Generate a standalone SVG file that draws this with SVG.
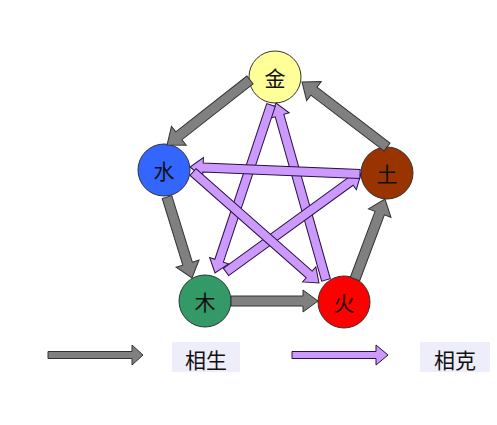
<svg xmlns="http://www.w3.org/2000/svg" width="497" height="425" viewBox="0 0 497 425">
<style>
.node{stroke:#333;stroke-width:1}
.lbl{font-family:"Noto Sans CJK SC","Noto Sans CJK JP",sans-serif;font-size:21px;fill:#111;text-anchor:middle;dominant-baseline:central}
.g{fill:#808080;stroke:#333;stroke-width:1;stroke-linejoin:miter}
.p{fill:#cc99ff;stroke:#2a1040;stroke-width:1;stroke-linejoin:miter}
.box{fill:#eeeefa}
</style>
<rect width="497" height="425" fill="#fff"/>
<g id="jin"><circle class="node" cx="275" cy="77" r="26" fill="#ffff99"/><text class="lbl" x="275" y="77">金</text></g>
<g id="shui"><circle class="node" cx="164" cy="170" r="26" fill="#3366ff"/><text class="lbl" x="164" y="170">水</text></g>
<g id="tu"><circle class="node" cx="387" cy="173" r="26" fill="#993300"/><text class="lbl" x="387" y="173">土</text></g>
<g id="mu"><circle class="node" cx="205" cy="301" r="26" fill="#339966"/><text class="lbl" x="205" y="301">木</text></g>
<g id="huo"><circle class="node" cx="344" cy="302" r="26" fill="#ff0000"/><text class="lbl" x="344" y="302">火</text></g>
<g id="connectors">
<polygon class="p" transform="translate(326,280) rotate(-105.77)" points="0,-4.5 170.9,-4.5 170.9,-10 183.9,0 170.9,10 170.9,4.5 0,4.5"/>
<polygon class="p" transform="translate(271,105) rotate(108.43)" points="0,-4.5 164.1,-4.5 164.1,-10 177.1,0 164.1,10 164.1,4.5 0,4.5"/>
<polygon class="p" transform="translate(226,272) rotate(-35.98)" points="0,-4.5 153.8,-4.5 153.8,-10 166.8,0 153.8,10 153.8,4.5 0,4.5"/>
<polygon class="p" transform="translate(360,174) rotate(-177.64)" points="0,-4.5 157.1,-4.5 157.1,-10 170.1,0 157.1,10 157.1,4.5 0,4.5"/>
<polygon class="p" transform="translate(193,172) rotate(41.38)" points="0,-4.5 154.9,-4.5 154.9,-10 167.9,0 154.9,10 154.9,4.5 0,4.5"/>
<polygon class="g" transform="translate(250,80) rotate(141.9)" points="0,-5 90.4,-5 90.4,-12 105.4,0 90.4,12 90.4,5 0,5"/>
<polygon class="g" transform="translate(167,197) rotate(72.85)" points="0,-5 69.8,-5 69.8,-12 84.8,0 69.8,12 69.8,5 0,5"/>
<polygon class="g" transform="translate(231,301) rotate(0)" points="0,-5 72,-5 72,-11 87,0 72,11 72,5 0,5"/>
<polygon class="g" transform="translate(355,279) rotate(-69.44)" points="0,-5 70.4,-5 70.4,-12 85.4,0 70.4,12 70.4,5 0,5"/>
<polygon class="g" transform="translate(387,147) rotate(-142.59)" points="0,-5 92,-5 92,-12 107,0 92,12 92,5 0,5"/>
</g>
<g id="legend">
<polygon class="g" transform="translate(48,355)" points="0,-3.5 84,-3.5 84,-10 95,0 84,10 84,3.5 0,3.5"/>
<rect class="box" x="172" y="342" width="68" height="30"/>
<text class="lbl" x="206" y="359">相生</text>
<polygon class="p" transform="translate(292,355)" points="0,-3.5 84,-3.5 84,-10 96,0 84,10 84,3.5 0,3.5"/>
<rect class="box" x="420" y="342" width="70" height="30"/>
<text class="lbl" x="455" y="359">相克</text>
</g>
</svg>
